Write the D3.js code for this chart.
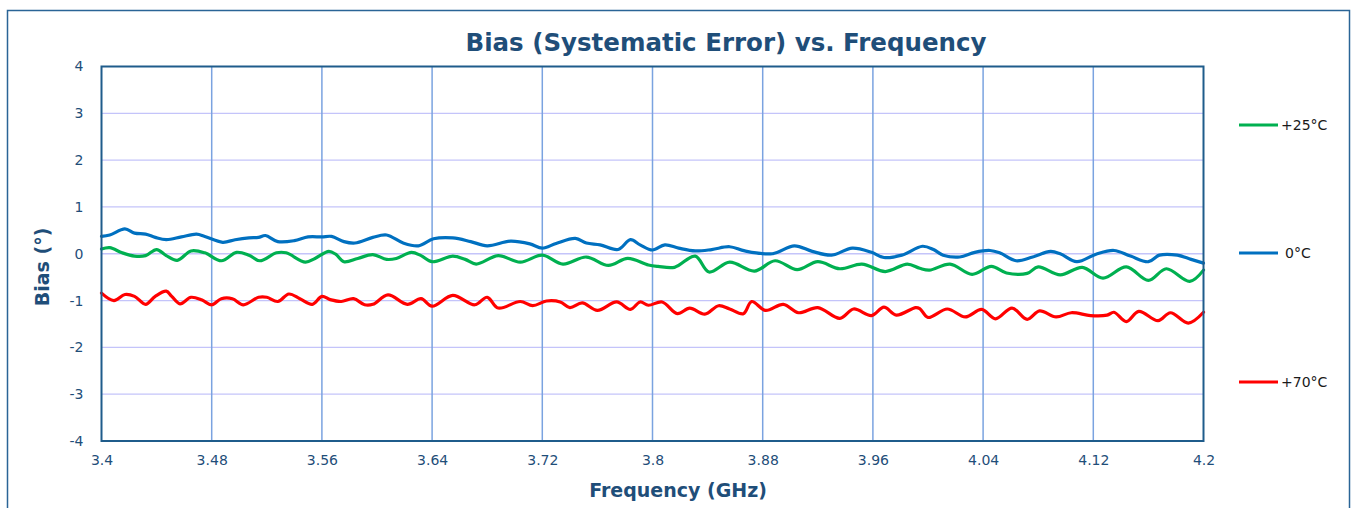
<!DOCTYPE html>
<html>
<head>
<meta charset="utf-8">
<script src="https://cdnjs.cloudflare.com/ajax/libs/d3/7.8.5/d3.min.js"></script>
<style>
  body { margin: 0; background: #fff; }
  text { font-family: "DejaVu Sans", Verdana, sans-serif; }
</style>
</head>
<body>
<div id="chart"></div>
<script>

// ---- data: [frequency GHz, bias deg] ----
var xTicks = [3.4, 3.48, 3.56, 3.64, 3.72, 3.8, 3.88, 3.96, 4.04, 4.12, 4.2];
var yTicks = [-4, -3, -2, -1, 0, 1, 2, 3, 4];

var seriesNames = ["+25°C", "0°C", "+70°C"];

var bias25 = [
  [3.400, 0.10], [3.406, 0.13], [3.415, 0.02], [3.424, -0.05], [3.432, -0.04], [3.440, 0.09],
  [3.447, -0.04], [3.455, -0.14], [3.465, 0.06], [3.475, 0.02], [3.487, -0.15], [3.498, 0.03],
  [3.507, -0.03], [3.515, -0.15], [3.527, 0.02], [3.534, 0.02], [3.548, -0.18], [3.555, -0.10],
  [3.565, 0.05], [3.570, -0.01], [3.576, -0.17], [3.586, -0.10], [3.597, -0.02], [3.607, -0.12],
  [3.614, -0.10], [3.625, 0.03], [3.632, -0.04], [3.640, -0.17], [3.655, -0.05], [3.664, -0.12],
  [3.672, -0.22], [3.688, -0.04], [3.704, -0.18], [3.720, -0.03], [3.735, -0.22], [3.752, -0.07],
  [3.768, -0.25], [3.782, -0.10], [3.797, -0.24], [3.804, -0.27], [3.816, -0.29], [3.831, -0.05],
  [3.841, -0.39], [3.856, -0.18], [3.874, -0.37], [3.889, -0.15], [3.905, -0.34], [3.920, -0.17],
  [3.936, -0.32], [3.952, -0.22], [3.969, -0.38], [3.985, -0.22], [3.994, -0.31], [4.001, -0.35],
  [4.016, -0.22], [4.032, -0.44], [4.046, -0.27], [4.057, -0.41], [4.072, -0.42], [4.080, -0.28],
  [4.096, -0.45], [4.112, -0.29], [4.127, -0.52], [4.144, -0.28], [4.160, -0.57], [4.173, -0.32],
  [4.190, -0.59], [4.200, -0.35]
];

var bias0 = [
  [3.400, 0.37], [3.406, 0.40], [3.417, 0.53], [3.424, 0.44], [3.432, 0.42], [3.439, 0.35],
  [3.447, 0.30], [3.458, 0.36], [3.469, 0.42], [3.475, 0.37], [3.488, 0.245], [3.497, 0.30],
  [3.507, 0.34], [3.514, 0.35], [3.519, 0.39], [3.528, 0.26], [3.540, 0.28], [3.550, 0.36],
  [3.560, 0.36], [3.567, 0.37], [3.576, 0.26], [3.584, 0.23], [3.597, 0.35], [3.607, 0.40],
  [3.619, 0.23], [3.630, 0.17], [3.641, 0.32], [3.655, 0.34], [3.668, 0.26], [3.680, 0.17],
  [3.697, 0.27], [3.711, 0.21], [3.720, 0.12], [3.730, 0.22], [3.744, 0.33], [3.752, 0.23],
  [3.762, 0.19], [3.775, 0.09], [3.784, 0.30], [3.791, 0.19], [3.800, 0.08], [3.809, 0.19],
  [3.819, 0.12], [3.831, 0.06], [3.843, 0.09], [3.856, 0.15], [3.867, 0.06], [3.887, 0.00],
  [3.903, 0.17], [3.916, 0.05], [3.930, -0.03], [3.945, 0.12], [3.959, 0.03], [3.968, -0.08],
  [3.981, -0.03], [3.996, 0.16], [4.004, 0.09], [4.011, -0.03], [4.023, -0.07], [4.034, 0.03],
  [4.045, 0.07], [4.052, 0.02], [4.064, -0.15], [4.076, -0.07], [4.089, 0.05], [4.096, 0.00],
  [4.108, -0.17], [4.122, -0.01], [4.135, 0.07], [4.147, -0.05], [4.160, -0.17], [4.168, -0.03],
  [4.181, -0.03], [4.191, -0.12], [4.200, -0.20]
];

var bias70 = [
  [3.400, -0.84], [3.409, -1.00], [3.417, -0.87], [3.424, -0.91], [3.432, -1.08], [3.439, -0.91],
  [3.447, -0.80], [3.451, -0.91], [3.457, -1.07], [3.465, -0.93], [3.473, -0.99], [3.480, -1.09],
  [3.487, -0.96], [3.495, -0.96], [3.503, -1.09], [3.514, -0.93], [3.520, -0.93], [3.528, -1.02],
  [3.536, -0.86], [3.544, -0.96], [3.553, -1.08], [3.560, -0.91], [3.566, -0.98], [3.574, -1.02],
  [3.583, -0.96], [3.591, -1.09], [3.597, -1.08], [3.608, -0.88], [3.622, -1.08], [3.632, -0.96],
  [3.640, -1.12], [3.655, -0.89], [3.671, -1.09], [3.680, -0.93], [3.688, -1.16], [3.704, -1.02],
  [3.713, -1.11], [3.723, -1.01], [3.733, -1.03], [3.740, -1.15], [3.749, -1.05], [3.760, -1.21],
  [3.774, -1.03], [3.784, -1.19], [3.791, -1.03], [3.797, -1.10], [3.807, -1.03], [3.818, -1.28],
  [3.827, -1.16], [3.838, -1.29], [3.848, -1.11], [3.856, -1.18], [3.866, -1.28], [3.872, -1.02],
  [3.882, -1.21], [3.895, -1.08], [3.906, -1.26], [3.920, -1.15], [3.936, -1.38], [3.946, -1.18],
  [3.959, -1.32], [3.968, -1.14], [3.977, -1.31], [3.991, -1.15], [3.994, -1.17], [4.000, -1.36],
  [4.014, -1.18], [4.027, -1.35], [4.039, -1.19], [4.049, -1.39], [4.061, -1.16], [4.072, -1.40],
  [4.081, -1.22], [4.093, -1.35], [4.104, -1.26], [4.118, -1.32], [4.130, -1.31], [4.135, -1.25],
  [4.144, -1.45], [4.153, -1.23], [4.167, -1.43], [4.176, -1.26], [4.189, -1.48], [4.200, -1.25]
];

var seriesColors = ["#00b050", "#0070c0", "#ff0000"];

// ---- layout ----
var W = 1355, H = 508;
var plot = { left: 101.5, top: 66.5, right: 1203.5, bottom: 441 };
var textColor = "#1f4e79";

var svg = d3.select("#chart").append("svg").attr("width", W).attr("height", H);

// outer chart frame
svg.append("rect")
   .attr("x", 7.5).attr("y", 10.5)
   .attr("width", 1342).attr("height", 530)
   .attr("fill", "none").attr("stroke", "#2a6496").attr("stroke-width", 1.5);

var x = d3.scaleLinear().domain([3.4, 4.2]).range([plot.left, plot.right]);
var y = d3.scaleLinear().domain([-4, 4]).range([plot.bottom, plot.top]);

// horizontal gridlines
svg.append("g").selectAll("line")
   .data(yTicks.filter(function(d) { return d > -4 && d < 4; }))
   .enter().append("line")
   .attr("x1", plot.left).attr("x2", plot.right)
   .attr("y1", function(d) { return y(d); }).attr("y2", function(d) { return y(d); })
   .attr("stroke", "#c4c4fa").attr("stroke-width", 1.3);

// vertical gridlines
svg.append("g").selectAll("line")
   .data(xTicks.filter(function(d) { return d > 3.41 && d < 4.19; }))
   .enter().append("line")
   .attr("x1", function(d) { return x(d); }).attr("x2", function(d) { return x(d); })
   .attr("y1", plot.top).attr("y2", plot.bottom)
   .attr("stroke", "#7aa3e0").attr("stroke-width", 1.5);

// axes (labels only, frame drawn below)
var xAxis = d3.axisBottom(x).tickValues(xTicks).tickSize(0).tickPadding(14)
              .tickFormat(function(d) { return String(+d.toFixed(2)); });
var yAxis = d3.axisLeft(y).tickValues(yTicks).tickSize(0).tickPadding(18)
              .tickFormat(function(d) { return String(d); });

var gx = svg.append("g").attr("transform", "translate(0," + plot.bottom + ")").call(xAxis);
var gy = svg.append("g").attr("transform", "translate(" + plot.left + ",0)").call(yAxis);
[gx, gy].forEach(function(g) {
  g.select(".domain").remove();
  g.selectAll("text").attr("fill", textColor).style("font-size", "14px")
   .style("font-family", "'DejaVu Sans', Verdana, sans-serif");
});

// series lines
var line = d3.line()
  .x(function(d) { return x(d[0]); })
  .y(function(d) { return y(d[1]); })
  .curve(d3.curveCatmullRom.alpha(0.5));

var allSeries = [bias25, bias0, bias70];

svg.append("g").selectAll("path")
   .data(allSeries)
   .enter().append("path")
   .attr("d", line)
   .attr("fill", "none")
   .attr("stroke", function(d, i) { return seriesColors[i]; })
   .attr("stroke-width", 3.2)
   .attr("stroke-linejoin", "round")
   .attr("stroke-linecap", "round");

// plot frame
svg.append("rect")
   .attr("x", plot.left).attr("y", plot.top)
   .attr("width", plot.right - plot.left).attr("height", plot.bottom - plot.top)
   .attr("fill", "none").attr("stroke", "#1f5c8b").attr("stroke-width", 2);

// titles
svg.append("text")
   .attr("x", 726).attr("y", 51)
   .attr("text-anchor", "middle")
   .attr("fill", textColor)
   .style("font-size", "24.5px").style("font-weight", "bold")
   .text("Bias (Systematic Error) vs. Frequency");

svg.append("text")
   .attr("x", 678).attr("y", 497)
   .attr("text-anchor", "middle")
   .attr("fill", textColor)
   .style("font-size", "19px").style("font-weight", "bold")
   .text("Frequency (GHz)");

svg.append("text")
   .attr("transform", "translate(49,267) rotate(-90)")
   .attr("text-anchor", "middle")
   .attr("fill", textColor)
   .style("font-size", "19px").style("font-weight", "bold")
   .text("Bias (°)");

// legend
var legendY = [125, 253, 382];
var legend = svg.append("g").selectAll("g")
   .data(seriesNames)
   .enter().append("g")
   .attr("transform", function(d, i) { return "translate(1239," + legendY[i] + ")"; });

legend.append("line")
   .attr("x1", 0).attr("x2", 39)
   .attr("stroke", function(d, i) { return seriesColors[i]; })
   .attr("stroke-width", 3);

legend.append("text")
   .attr("x", function(d) { return d === "0°C" ? 46 : 42; })
   .attr("dy", "0.35em")
   .attr("fill", "#1a1a1a")
   .style("font-size", "14px")
   .text(function(d) { return d; });

</script>
</body>
</html>
